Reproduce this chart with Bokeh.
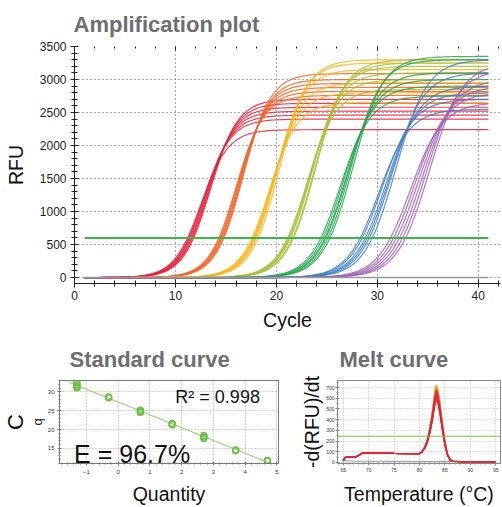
import numpy as np
from bokeh.plotting import figure
from bokeh.layouts import column, row
from bokeh.models import (LinearAxis, Span, Label, SingleIntervalTicker, Range1d,
                          CustomJSTickFormatter, Title)
from bokeh.embed import file_html
from bokeh.resources import INLINE

FONT = "Liberation Sans"
TITLE_COLOR = "#6d6e71"

# ---------------- Amplification plot data ----------------
amp_colors = ["#e5213c", "#f26323", "#fbb316", "#a3c13a", "#26a54f", "#3f7ec6", "#9d5fb5"]
red_ct = [11.2, 11.3, 11.4, 11.5, 11.6, 11.7, 11.8]
red_plateau = [2240, 2400, 2460, 2520, 2580, 2640, 2700]
orange_ct = [14.3, 14.4, 14.5, 14.6, 14.7, 14.8]
orange_plateau = [2760, 2820, 2880, 2940, 3000, 3090]
gold_ct = [17.6, 17.7, 17.8, 17.9, 18.0, 18.2]
gold_plateau = [2650, 2800, 2950, 3150, 3250, 3300]
lime_ct = [21.1, 21.2, 21.3, 21.4, 21.6, 21.7]
lime_plateau = [2850, 3000, 3100, 3200, 3250, 3300]
green_ct = [24.4, 24.6, 24.8, 24.9, 25.1, 25.3]
green_plateau = [2750, 2900, 3000, 3100, 3300, 3350]
blue_ct = [28.3, 28.5, 28.8, 29.0, 29.2, 29.5]
blue_plateau = [2550, 2700, 2800, 2900, 3100, 3300]
purple_ct = [31.3, 31.6, 31.9, 32.2, 32.5, 32.8]
purple_plateau = [2650, 2800, 2900, 3000, 3150, 3250]
amp_slope = [1.35, 1.35, 1.4, 1.45, 1.5, 1.55, 1.6]
amp_threshold = 600
amp_first_cycle = 1
amp_last_cycle = 41

amp_ct = [red_ct, orange_ct, gold_ct, lime_ct, green_ct, blue_ct, purple_ct]
amp_plateau = [red_plateau, orange_plateau, gold_plateau, lime_plateau,
               green_plateau, blue_plateau, purple_plateau]

# ---------------- Standard curve data ----------------
std_log_qty = [-1.3, -1.3, -1.3, -1.3, -0.3, -0.3, 0.7, 0.7, 0.7, 1.7, 1.7,
               2.7, 2.7, 2.7, 3.7, 3.7, 4.7, 4.7]
std_cq = [32.4, 31.9, 31.5, 31.1, 28.6, 28.4, 25.1, 24.8, 24.6, 21.6, 21.3,
          18.4, 18.0, 17.6, 14.6, 14.4, 11.8, 11.6]
std_r2_text = "R\u00b2 = 0.998"
std_eff_text = "E = 96.7%"

# ---------------- Melt curve data ----------------
melt_temp = [65.0, 65.3, 65.7, 67.5, 68.0, 68.7, 69.5, 72.0, 75.0, 79.0, 80.0, 80.5,
             81.0, 81.5, 82.0, 82.5, 83.0, 83.3, 83.6, 84.0, 84.5, 85.0, 85.5, 86.0,
             86.5, 88.0, 90.0, 95.0]
melt_base = [15, 45, 50, 52, 65, 85, 90, 88, 85, 82, 82, 82, 80, 75, 70, 60, 50, 45,
             40, 35, 28, 20, 14, 10, 8, 7, 6, 3]
melt_peak_shape = [0, 0, 0, 0, 0, 0, 0, 0, 0, 0, 0, 0.03, 0.09, 0.19, 0.36, 0.59,
                   0.88, 1.0, 0.95, 0.78, 0.5, 0.26, 0.1, 0.025, 0.005, 0, 0, 0]
melt_heights = [
    [560, 590, 620],            # purple
    [570, 610, 640, 660],       # blue
    [600, 640, 670, 680],       # green
    [610, 650, 675],            # lime
    [620, 660, 680],            # gold
    [560, 600, 630, 650],       # orange
    [540, 560, 590, 610, 630],  # red
]
melt_colors = ["#9d5fb5", "#3f7ec6", "#26a54f", "#a3c13a", "#fbb316", "#f26323", "#e5213c"]
melt_ntc_temp = [65, 67, 75, 85, 95]
melt_ntc_val = [18, 12, 10, 8, 5]
melt_threshold = 245


def style_axis(ax, size, color="#222222", tin=4, tout=4, mtin=3, mtout=3, lc="#222222"):
    ax.major_label_text_font = FONT
    ax.major_label_text_font_size = size
    ax.major_label_text_color = color
    ax.axis_line_color = lc
    ax.major_tick_line_color = lc
    ax.minor_tick_line_color = lc
    ax.major_tick_in = tin
    ax.major_tick_out = tout
    ax.minor_tick_in = mtin
    ax.minor_tick_out = mtout
    ax.axis_label_text_font = FONT
    ax.axis_label_text_font_style = "normal"
    ax.axis_label_text_color = "#111111"


def style_title(p, text, offset, standoff, size="22px"):
    p.title.text = text
    p.title.text_font = FONT
    p.title.text_font_style = "bold"
    p.title.text_font_size = size
    p.title.text_color = TITLE_COLOR
    p.title.align = "left"
    p.title.offset = offset
    p.title.standoff = standoff


# ================= Amplification plot =================
amp = figure(width=502, height=335, x_range=Range1d(0, 42.2), y_range=Range1d(-90, 3500),
             output_backend="svg", toolbar_location=None,
             min_border_left=74, min_border_right=2, min_border_top=46, min_border_bottom=52)
style_title(amp, "Amplification plot", -1, 19)
amp.outline_line_color = None
amp.background_fill_color = "white"

amp.xaxis.ticker = SingleIntervalTicker(interval=10, num_minor_ticks=5)
amp.yaxis.ticker = SingleIntervalTicker(interval=500, num_minor_ticks=5)
style_axis(amp.xaxis[0], "12px")
style_axis(amp.yaxis[0], "12px")
amp.xaxis.axis_label = "Cycle"
amp.yaxis.axis_label = "RFU"
amp.xaxis.axis_label_text_font_size = "19.5px"
amp.yaxis.axis_label_text_font_size = "19.5px"
amp.xaxis.major_label_standoff = 3
amp.yaxis.major_label_standoff = 4
amp.xaxis.axis_label_standoff = 6
amp.yaxis.axis_label_standoff = 10

top_ax = LinearAxis(ticker=SingleIntervalTicker(interval=10, num_minor_ticks=5),
                    formatter=CustomJSTickFormatter(code="return ''"))
style_axis(top_ax, "1px", tin=4, tout=0, mtin=2, mtout=0)
top_ax.axis_line_color = None
top_ax.major_label_standoff = 0
amp.add_layout(top_ax, "above")

for g in (amp.xgrid[0], amp.ygrid[0]):
    g.grid_line_color = "#555555"
    g.grid_line_dash = "1 3"
    g.grid_line_width = 1

cyc = np.arange(amp_first_cycle, amp_last_cycle + 0.001, 0.25)
for color, cts, plats, s in zip(amp_colors, amp_ct, amp_plateau, amp_slope):
    for ct, P in zip(cts, plats):
        mid = ct + s * np.log(P / amp_threshold - 1)
        rfu = P / (1 + np.exp(-(cyc - mid) / s))
        amp.line(cyc, rfu, line_color=color, line_width=1.2, line_alpha=0.85)

amp.line([amp_first_cycle, amp_last_cycle], [0, 0], line_color="#9a9a9a", line_width=1.5)
amp.line([amp_first_cycle, amp_last_cycle], [amp_threshold, amp_threshold],
         line_color="#3db54a", line_width=2)

# ================= Standard curve =================
std = figure(width=298, height=172, x_range=Range1d(-1.85, 5.05), y_range=Range1d(11, 33),
             output_backend="svg", toolbar_location=None,
             min_border_left=57, min_border_right=20, min_border_top=38, min_border_bottom=39)
style_title(std, "Standard curve", 10, 18)
std.outline_line_color = "#777777"
std.xaxis.ticker = SingleIntervalTicker(interval=1, num_minor_ticks=5)
std.yaxis.ticker = SingleIntervalTicker(interval=5, num_minor_ticks=5)
style_axis(std.xaxis[0], "6px", color="#333333", tin=2, tout=2, mtin=1, mtout=1, lc="#777777")
style_axis(std.yaxis[0], "6px", color="#333333", tin=2, tout=2, mtin=1, mtout=1, lc="#777777")
std.xaxis.major_label_standoff = 4
std.yaxis.major_label_standoff = 3
std.xaxis.axis_label = "Quantity"
std.xaxis.axis_label_text_font_size = "19.5px"
std.xaxis.axis_label_standoff = 6
for g in (std.xgrid[0], std.ygrid[0]):
    g.grid_line_color = "#aaaaaa"
    g.grid_line_dash = "1 2"

std.add_layout(Title(text="q", align="center", offset=3, text_font=FONT, text_font_size="13px",
                     text_font_style="normal", text_color="#111111", standoff=0), "left")
std.add_layout(Title(text="C", align="center", offset=-9, text_font=FONT, text_font_size="22px",
                     text_font_style="normal", text_color="#111111", standoff=0), "left")

fit = np.polyfit(std_log_qty, std_cq, 1)
fx = np.array([min(std_log_qty) - 0.25, max(std_log_qty) + 0.15])
std.line(fx, np.polyval(fit, fx), line_color="#8cc864", line_width=1)
std.scatter(std_log_qty, std_cq, marker="circle", size=6, fill_color=None,
            line_color="#6cbf45", line_width=1.5)

std.add_layout(Label(x=1.80, y=28.6, text=std_r2_text, text_font=FONT, text_font_size="18px",
                     text_baseline="alphabetic", text_color="#111111"))
std.add_layout(Label(x=-1.39, y=13.6, text=std_eff_text, text_font=FONT, text_font_size="25px",
                     text_baseline="alphabetic", text_color="#111111"))

# ================= Melt curve =================
melt = figure(width=204, height=172, x_range=Range1d(63.87, 95.94), y_range=Range1d(-10, 766),
              output_backend="svg", toolbar_location=None,
              min_border_left=32, min_border_right=2, min_border_top=35, min_border_bottom=39)
style_title(melt, "Melt curve", 2, 18)
melt.outline_line_color = "#888888"
melt.xaxis.ticker = SingleIntervalTicker(interval=5, num_minor_ticks=5)
melt.yaxis.ticker = SingleIntervalTicker(interval=100, num_minor_ticks=2)
style_axis(melt.xaxis[0], "5px", color="#333333", tin=2, tout=2, mtin=1, mtout=1, lc="#888888")
style_axis(melt.yaxis[0], "5px", color="#333333", tin=2, tout=2, mtin=1, mtout=1, lc="#888888")
melt.xaxis.major_label_standoff = 2
melt.yaxis.major_label_standoff = 1
melt.xaxis.axis_label = "Temperature (\u00b0C)"
melt.yaxis.axis_label = "-d(RFU)/dt"
melt.xaxis.axis_label_text_font_size = "19.5px"
melt.yaxis.axis_label_text_font_size = "19.5px"
melt.xaxis.axis_label_standoff = 8
melt.yaxis.axis_label_standoff = 0
for g in (melt.xgrid[0], melt.ygrid[0]):
    g.grid_line_color = "#bbbbbb"
    g.grid_line_dash = "1 2"

melt.line(melt_ntc_temp, melt_ntc_val, line_color="#9a9a9a", line_width=1)
base = np.array(melt_base, dtype=float)
shape = np.array(melt_peak_shape)
for color, hs in zip(melt_colors, melt_heights):
    for h in hs:
        melt.line(melt_temp, base + h * shape, line_color=color, line_width=1.2, line_alpha=0.8)
melt.add_layout(Span(location=melt_threshold, dimension="width", line_color="#7cc242",
                     line_width=1.2))

layout = column(amp, row(std, melt))
open("out.html", "w").write(file_html(layout, INLINE))
